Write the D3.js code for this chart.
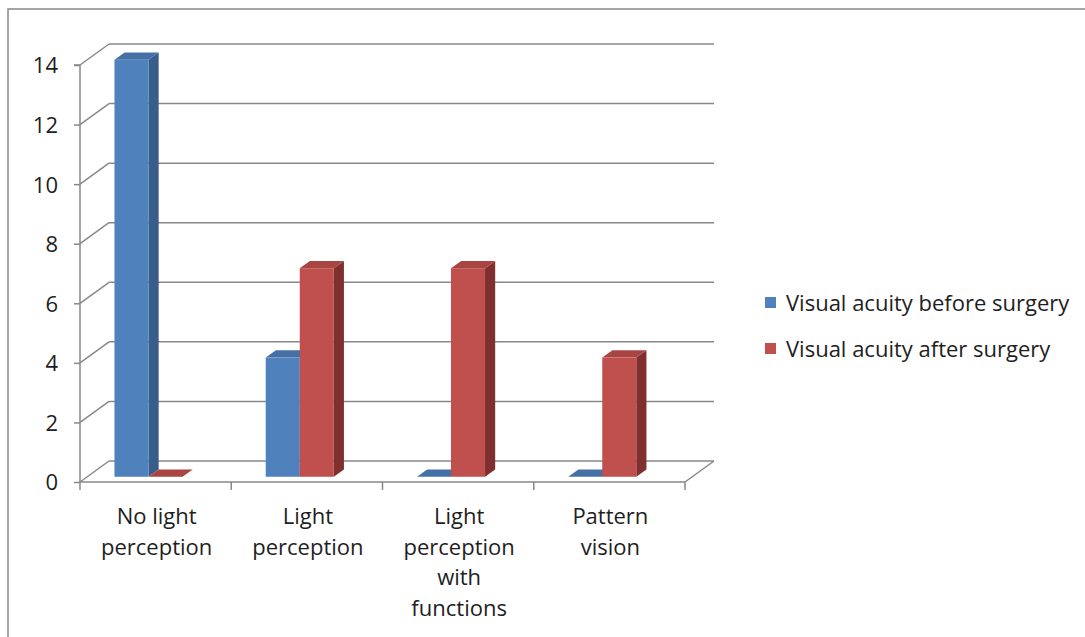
<!DOCTYPE html>
<html>
<head>
<meta charset="utf-8">
<script src="https://cdn.jsdelivr.net/npm/d3@7"></script>
<style>
  html, body { margin: 0; padding: 0; background: #fff; }
  svg { display: block; font-family: "Open Sans", Lato, sans-serif; }
</style>
</head>
<body>
<svg id="chart" width="1085" height="637"></svg>
<script>
// Visual acuity before/after surgery, number of eyes per category
const categories = [
  ["No light", "perception"],
  ["Light", "perception"],
  ["Light", "perception", "with", "functions"],
  ["Pattern", "vision"]
];
const series = ["Visual acuity before surgery", "Visual acuity after surgery"];
const before = [14, 4, 0, 0];
const after = [0, 7, 7, 4];
const yTicks = [0, 2, 4, 6, 8, 10, 12, 14];

const palette = {
  front: ["#4F81BD", "#C0504D"],
  side:  ["#385D8A", "#7F2F2E"],
  top:   ["#4470A6", "#A84542"]
};

const svg = d3.select("#chart");
const W = 1085, H = 637;
const textColor = "#1e1e1e";
const fontSize = 22;

// outer chart frame
svg.append("rect")
  .attr("x", 8).attr("y", 9)
  .attr("width", W + 20).attr("height", H + 20)
  .attr("fill", "#fff").attr("stroke", "#898989").attr("stroke-width", 1.5);

// front-plane scales plus a depth vector for the 3D projection
const catIdx = d3.range(categories.length);
const x = d3.scaleBand(catIdx, [80, 685]);
const y = d3.scaleLinear([0, 14], [482, 65]);
const depth = [29, -21];
const bw = x.bandwidth();
const x1 = d3.scaleBand(d3.range(series.length), [bw * 0.18, bw * 0.63]);
const barFront = 0.25, barBack = 0.6;

const grid = "#888888";
const g = svg.append("g");

// back wall gridlines and side-wall diagonals
yTicks.forEach(t => {
  const yy = y(t);
  g.append("line")
    .attr("x1", 80 + depth[0]).attr("x2", 685 + depth[0])
    .attr("y1", yy + depth[1]).attr("y2", yy + depth[1])
    .attr("stroke", grid).attr("stroke-width", 1.5);
  g.append("line")
    .attr("x1", 80).attr("y1", yy)
    .attr("x2", 80 + depth[0]).attr("y2", yy + depth[1])
    .attr("stroke", grid).attr("stroke-width", 1.5);
});
// floor: front edge and right diagonal
g.append("line")
  .attr("x1", 80).attr("x2", 685).attr("y1", y(0)).attr("y2", y(0))
  .attr("stroke", grid).attr("stroke-width", 1.5);
g.append("line")
  .attr("x1", 685).attr("y1", y(0))
  .attr("x2", 685 + depth[0]).attr("y2", y(0) + depth[1])
  .attr("stroke", grid).attr("stroke-width", 1.5);

// value axis
const yAxis = d3.axisLeft(y).tickValues(yTicks).tickSize(6).tickPadding(16);
const ya = svg.append("g").attr("transform", "translate(80,0)").call(yAxis);
ya.select(".domain").attr("stroke", grid).attr("stroke-width", 1.5).attr("d", `M-6,${y(14)}H0V${y(0)}`);
ya.selectAll(".tick line").attr("stroke", grid).attr("stroke-width", 1.5);
ya.selectAll(".tick text")
  .attr("font-size", fontSize).attr("font-family", "'Open Sans', sans-serif").attr("fill", textColor)
  .attr("dy", "0.36em");

// category axis ticks
const catTicks = d3.range(categories.length + 1).map(i => i < categories.length ? x(i) : x(i - 1) + bw);
svg.append("g").selectAll("line").data(catTicks).join("line")
  .attr("x1", d => d).attr("x2", d => d)
  .attr("y1", y(0)).attr("y2", y(0) + 8)
  .attr("stroke", grid).attr("stroke-width", 1.5);

// category labels
svg.append("g").selectAll("text").data(catIdx).join("text")
  .attr("y", 524)
  .attr("text-anchor", "middle")
  .attr("font-size", fontSize).attr("fill", textColor)
  .each(function(i) {
    d3.select(this).selectAll("tspan").data(categories[i]).join("tspan")
      .attr("x", x(i) + bw / 2 + 1)
      .attr("dy", (d, k) => k === 0 ? 0 : 30.5)
      .text(d => d);
  });

// 3D bars: side face, front face, top face
const bars = [];
catIdx.forEach(i => {
  [before[i], after[i]].forEach((v, s) => bars.push({ i, s, v }));
});

const bg = svg.append("g");
bars.forEach(b => {
  const fx = x(b.i) + x1(b.s) + depth[0] * barFront;
  const fw = x1.bandwidth();
  const fy0 = y(0) + depth[1] * barFront;
  const fyT = y(b.v) + depth[1] * barFront;
  const dx = depth[0] * (barBack - barFront);
  const dy = depth[1] * (barBack - barFront);
  if (b.v > 0) {
    bg.append("path")
      .attr("d", `M${fx + fw},${fyT}L${fx + fw + dx},${fyT + dy}L${fx + fw + dx},${fy0 + dy}L${fx + fw},${fy0}Z`)
      .attr("fill", palette.side[b.s]);
    bg.append("rect")
      .attr("x", fx).attr("y", fyT).attr("width", fw).attr("height", fy0 - fyT)
      .attr("fill", palette.front[b.s]);
  }
  bg.append("path")
    .attr("d", `M${fx},${fyT}L${fx + dx},${fyT + dy}L${fx + fw + dx},${fyT + dy}L${fx + fw},${fyT}Z`)
    .attr("fill", palette.top[b.s]);
});

// legend
const lg = svg.append("g");
series.forEach((name, s) => {
  const ly = 303 + s * 46;
  lg.append("rect")
    .attr("x", 765).attr("y", ly - 6).attr("width", 11).attr("height", 11)
    .attr("fill", palette.front[s]);
  lg.append("text")
    .attr("x", 786).attr("y", ly).attr("dy", "0.35em")
    .attr("font-size", fontSize).attr("fill", textColor)
    .text(name);
});
</script>
</body>
</html>
